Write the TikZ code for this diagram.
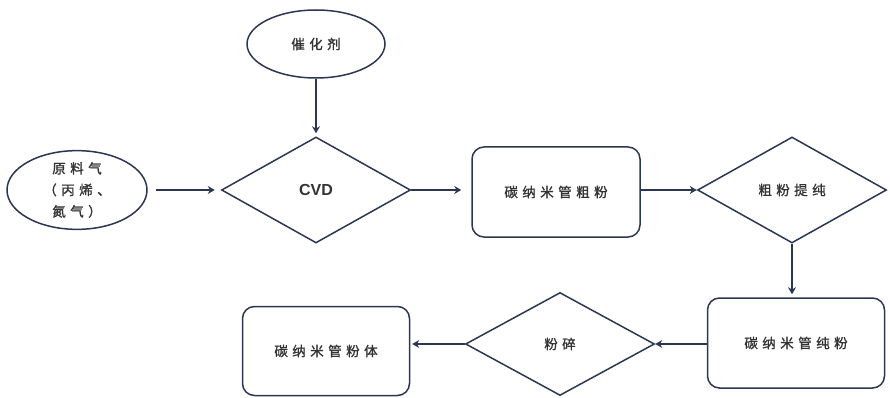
\documentclass[tikz,border=0pt]{standalone}
\usepackage{fontspec}
\setsansfont{Liberation Sans}
\newfontfamily\cjk[LetterSpace=33,FakeBold=1.2]{Noto Sans CJK SC}
\usetikzlibrary{shapes.geometric,arrows.meta}
\definecolor{navy}{HTML}{2B3652}
\definecolor{txtgray}{HTML}{333333}

\begin{document}
\begin{tikzpicture}[x=1pt,y=-1pt,
    every node/.style={draw=navy,line width=1.5pt,text=txtgray,font=\cjk\fontsize{13.5}{21.5}\selectfont},
    oval/.style={ellipse,inner sep=0pt},
    judge/.style={diamond,inner sep=0pt,minimum width=189pt,minimum height=106pt},
    box/.style={rounded corners=12pt,minimum width=168pt,minimum height=90pt},
    flow/.style={draw=navy,line width=1.5pt,-{Stealth[length=7pt,width=8pt]}}]
  \useasboundingbox (0,0) rectangle (890,398);

  \node[oval,minimum width=138pt,minimum height=68pt] (cat) at (316,44) {催化剂};
  \node[oval,minimum width=140pt,minimum height=78pt,align=center] (gas) at (77,190) {原料气\\（丙烯、\\氮气）};
  \node[judge,font=\sffamily\bfseries\fontsize{16}{18}\selectfont] (cvd) at (316,190) {CVD};
  \node[box] (crude) at (556,192) {碳纳米管粗粉};
  \node[judge] (purify) at (792,190) {粗粉提纯};
  \node[box,minimum width=177pt] (pure) at (796,343) {碳纳米管纯粉};
  \node[judge,minimum height=103pt] (mill) at (560,344) {粉碎};
  \node[box,minimum width=167pt,minimum height=89pt] (powder) at (326,351) {碳纳米管粉体};

  \draw[flow,shorten <=8pt,shorten >=6pt] (gas.east) -- (cvd.west);
  \draw[flow,shorten >=3pt] (cat) -- (cvd);
  \draw[flow,shorten >=10pt] (cvd.east) -- (cvd.east -| crude.west);
  \draw[flow] (crude.east |- purify.west) -- (purify.west);
  \draw[flow,shorten >=3pt] (purify.south) -- (purify.south |- pure.north);
  \draw[flow] (pure.west |- mill.east) -- (mill.east);
  \draw[flow,shorten >=2pt] (mill.west) -- (mill.west -| powder.east);
\end{tikzpicture}
\end{document}
